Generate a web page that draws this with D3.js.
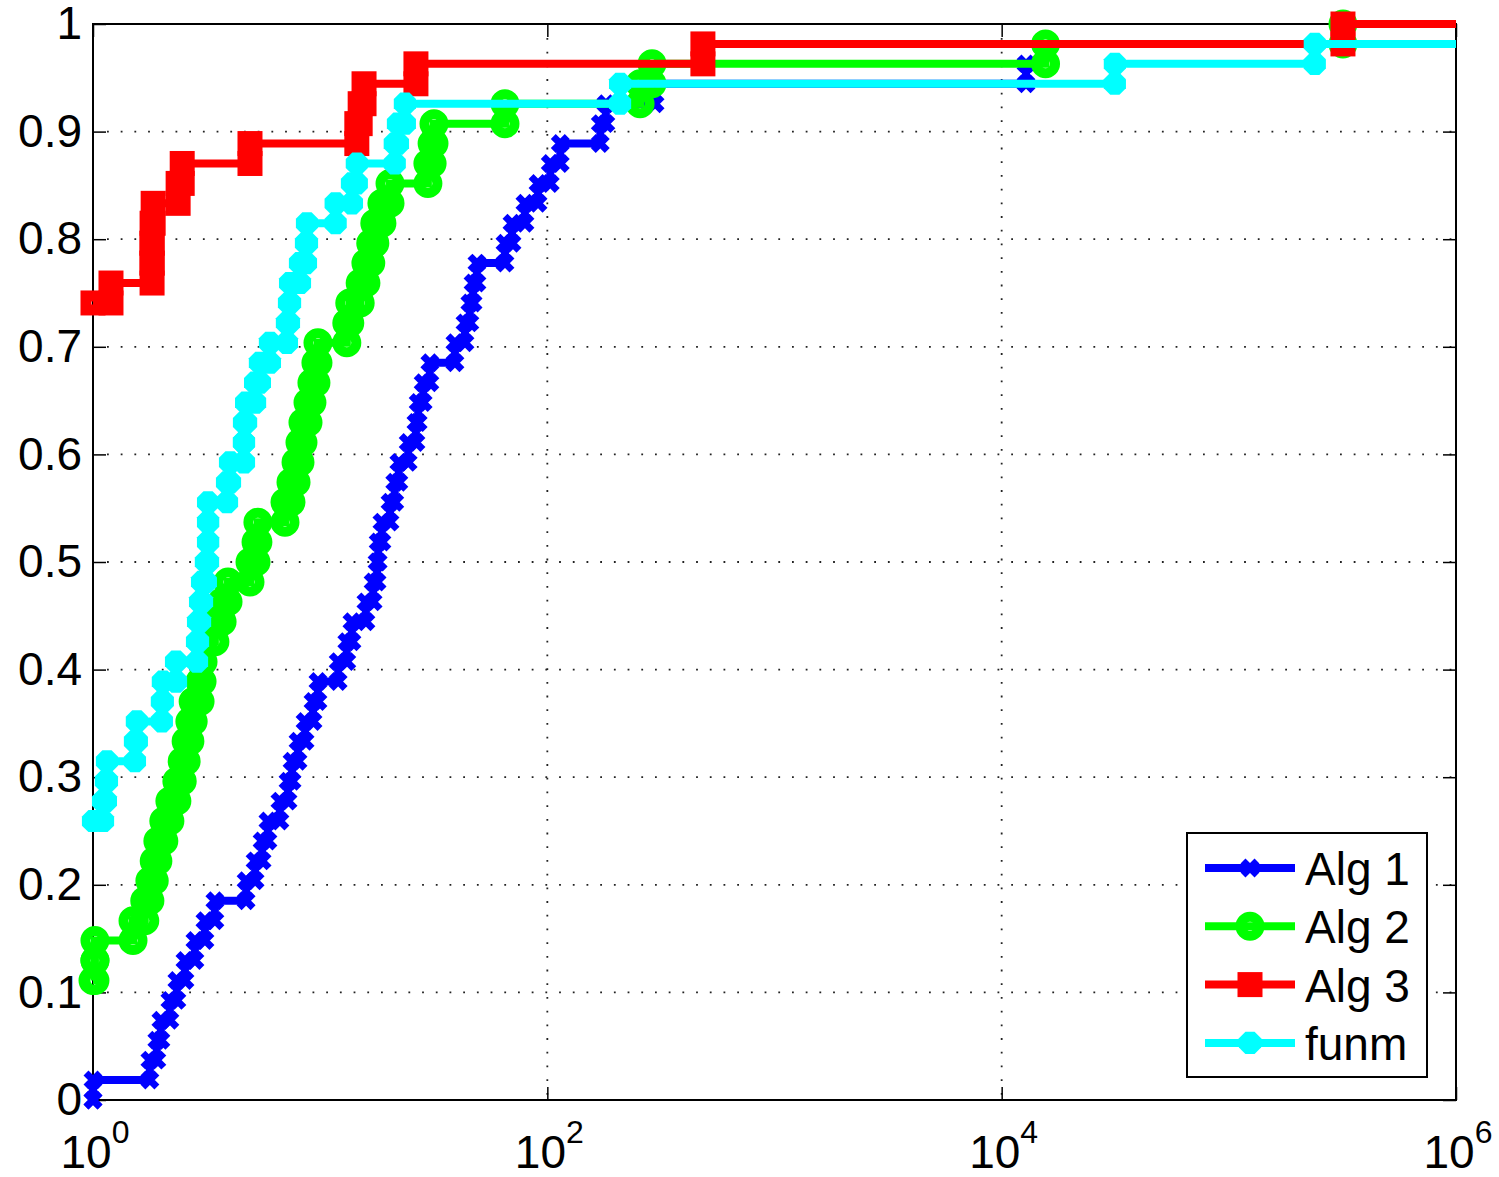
<!DOCTYPE html>
<html>
<head>
<meta charset="utf-8">
<script src="https://cdn.jsdelivr.net/npm/d3@7"></script>
<style>
  body { margin: 0; background: #fff; }
  svg { display: block; font-family: "Liberation Sans", Arial, Helvetica, sans-serif; }
</style>
</head>
<body>
<svg id="chart" width="1499" height="1177"></svg>
<script>
/*
 * Performance profile: fraction of the 54 problems solved within a ratio
 * of the best method, log x axis from 10^0 to 10^6.
 */

//number of test problems
var nProblems = 54;

//Alg 1 : ratio at every step and number of problems reached at that step
var alg1Ratio = [1, 1, 1.78, 1.91, 1.99, 2.18, 2.34, 2.54, 2.81, 3.11, 3.44, 4.72, 5.17, 5.55, 5.89, 6.65,
                 7.22, 7.52, 7.99, 8.58, 9.30, 9.78, 12.0, 13.1, 13.8, 15.9, 17.1, 17.8, 18.0, 18.7, 20.3,
                 21.3, 22.2, 24.4, 26.4, 27.0, 28.4, 30.4, 39.2, 43.4, 45.6, 47.1, 49.0, 65.1, 69.9, 79.7,
                 91.0, 103, 114, 171, 181, 298, 12800];
var alg1Count = [0, 1, 2, 3, 4, 5, 6, 7, 8, 9, 10, 11, 12, 13, 14, 15, 16, 17, 18, 19, 20, 21, 22, 23, 24,
                 25, 26, 27, 28, 29, 30, 31, 32, 33, 34, 35, 36, 37, 38, 39, 40, 41, 42, 43, 44, 45, 46, 47,
                 48, 49, 50, 51, 52];

//Alg 2
var alg2Ratio = [1, 1.02, 1.02, 1.50, 1.69, 1.78, 1.86, 1.93, 2.05, 2.18, 2.34, 2.47, 2.57, 2.67, 2.76,
                 2.96, 3.02, 3.05, 3.44, 3.70, 3.93, 4.91, 5.22, 5.32, 7.00, 7.44, 7.83, 8.15, 8.40, 8.84,
                 9.20, 9.58, 9.78, 13.1, 13.5, 15.0, 15.9, 16.7, 17.4, 18.7, 20.3, 29.8, 31.1, 31.7, 65.1,
                 256, 289, 15600, 318000];
var alg2Count = [6, 7, 8, 9, 10, 11, 12, 13, 14, 15, 16, 17, 18, 19, 20, 21, 22, 23, 24, 25, 26, 27, 28,
                 29, 30, 31, 32, 33, 34, 35, 36, 37, 38, 39, 40, 41, 42, 43, 44, 45, 46, 47, 48, 49, 50,
                 51, 52, 53, 54];

//Alg 3
var alg3Ratio = [1, 1.20, 1.82, 1.82, 1.82, 1.84, 2.37, 2.47, 4.91, 14.5, 15.0, 15.6, 26.4, 484, 318000];
var alg3Count = [40, 41, 42, 43, 44, 45, 46, 47, 48, 49, 50, 51, 52, 53, 54];

//funm
var funmRatio = [1, 1.107, 1.14, 1.152, 1.53, 1.56, 2.01, 2.03, 2.32, 2.87, 2.90, 2.96, 3.02, 3.14, 3.21,
                 3.21, 3.21, 3.89, 4.01, 4.62, 4.62, 4.72, 5.17, 5.43, 6.01, 7.14, 7.29, 7.37, 8.15, 8.66,
                 8.75, 11.7, 13.8, 14.5, 21.3, 22.0, 23.6, 209, 31500, 239000];
var funmCount = [14, 15, 16, 17, 18, 19, 20, 21, 22, 23, 24, 25, 26, 27, 28, 29, 30, 31, 32, 33, 34, 35,
                 36, 37, 38, 39, 40, 41, 42, 43, 44, 45, 46, 47, 48, 49, 50, 51, 52, 53];

//largest ratio of each method (beyond the axis, so the last step runs off the plot); null = none
var tailRatio = [null, 2e6, 2e6, 2e6];

var seriesNames = ["Alg 1", "Alg 2", "Alg 3", "funm"];
var seriesColors = ["#0000ff", "#00ff00", "#ff0000", "#00ffff"];

//axis ticks
var xTicks = [1, 1e2, 1e4, 1e6];
var xTickExp = ["0", "2", "4", "6"];
var yTicks = [0, 0.1, 0.2, 0.3, 0.4, 0.5, 0.6, 0.7, 0.8, 0.9, 1];
var yTickLabels = ["0", "0.1", "0.2", "0.3", "0.4", "0.5", "0.6", "0.7", "0.8", "0.9", "1"];


/*
 * Scales
 */
var plotL = 93, plotR = 1456, plotT = 24, plotB = 1100;

var x = d3.scaleLog().domain([1, 1e6]).range([plotL, plotR]);
var y = d3.scaleLinear().domain([0, 1]).range([plotB, plotT]);

var svg = d3.select("#chart");

//clip only right of the box (markers on the left edge hang over the axis like the original)
svg.append("defs").append("clipPath").attr("id", "plotclip")
   .append("rect")
   .attr("x", 0).attr("y", 0)
   .attr("width", plotR).attr("height", plotB + 40);


/*
 * Grid (dotted)
 */
var grid = svg.append("g").attr("stroke", "#222").attr("stroke-width", 1.8)
              .attr("stroke-dasharray", "1.8,11.9");

grid.selectAll("line.h")
    .data(yTicks.slice(1, -1))
    .enter().append("line")
    .attr("class", "h")
    .attr("x1", plotL + 14).attr("x2", plotR)
    .attr("y1", function(d){ return y(d); })
    .attr("y2", function(d){ return y(d); });

grid.selectAll("line.v")
    .data(xTicks.slice(1, -1))
    .enter().append("line")
    .attr("class", "v")
    .attr("y1", plotT + 14).attr("y2", plotB)
    .attr("x1", function(d){ return x(d); })
    .attr("x2", function(d){ return x(d); });


/*
 * Axes (ticks point inwards on all four sides)
 */
var yAxis = d3.axisLeft(y).tickValues(yTicks).tickSize(-13).tickPadding(11)
              .tickFormat(function(d, i){ return yTickLabels[i]; });
var xAxis = d3.axisBottom(x).tickValues(xTicks).tickSize(-13).tickFormat("");

var gy = svg.append("g").attr("transform", "translate(" + plotL + ",0)").call(yAxis);
var gx = svg.append("g").attr("transform", "translate(0," + plotB + ")").call(xAxis);
var gt = svg.append("g").attr("transform", "translate(0," + plotT + ")")
            .call(d3.axisTop(x).tickValues(xTicks).tickSize(-13).tickFormat(""));
var gr = svg.append("g").attr("transform", "translate(" + plotR + ",0)")
            .call(d3.axisRight(y).tickValues(yTicks).tickSize(-13).tickFormat(""));

[gy, gx, gt, gr].forEach(function(g){
  g.select(".domain").remove();
  g.selectAll(".tick line").attr("stroke", "#000").attr("stroke-width", 1.5);
});

gy.selectAll(".tick text")
  .attr("font-size", 46).attr("fill", "#000")
  .attr("font-family", "'Liberation Sans', Arial, Helvetica, sans-serif");

//log labels 10^n
var xl = svg.append("g").selectAll("text")
            .data(xTicks)
            .enter().append("text")
            .attr("x", function(d){ return x(d) + 2; })
            .attr("y", 1168)
            .attr("text-anchor", "middle")
            .attr("font-size", 46)
            .text("10");
xl.append("tspan")
  .attr("dy", -25)
  .attr("font-size", 32)
  .text(function(d, i){ return xTickExp[i]; });

//box
svg.append("rect")
   .attr("x", plotL).attr("y", plotT)
   .attr("width", plotR - plotL).attr("height", plotB - plotT)
   .attr("fill", "none").attr("stroke", "#000").attr("stroke-width", 2);


/*
 * Curves
 */

//stair vertices: go across at the old level, then up to the new one
function stairPoints(ratio, count, tail) {
  var pts = [[ratio[0], count[0]]];
  for (var i = 1; i < ratio.length; i++) {
    pts.push([ratio[i], count[i - 1]]);
    pts.push([ratio[i], count[i]]);
  }
  if (tail) pts.push([tail, count[count.length - 1]]);
  return pts;
}

//marker shapes (thick strokes like the matlab markers)
function drawMarker(sel, k) {
  var c = seriesColors[k];
  if (k === 0) {
    sel.append("path").attr("d", "M-7,-7L7,7M-7,7L7,-7")
       .attr("fill", "none").attr("stroke", c).attr("stroke-width", 7);
  } else if (k === 1) {
    sel.append("circle").attr("r", 9.5)
       .attr("fill", "none").attr("stroke", c).attr("stroke-width", 10);
  } else if (k === 2) {
    sel.append("rect").attr("x", -7).attr("y", -7).attr("width", 14).attr("height", 14)
       .attr("fill", "none").attr("stroke", c).attr("stroke-width", 11);
  } else {
    var oct = d3.range(8).map(function(j){
      var a = Math.PI / 8 + j * Math.PI / 4;
      return [12 * Math.cos(a), 12 * Math.sin(a)];
    });
    sel.append("path").attr("d", "M" + oct.join("L") + "Z").attr("fill", c);
  }
}

var allRatio = [alg1Ratio, alg2Ratio, alg3Ratio, funmRatio];
var allCount = [alg1Count, alg2Count, alg3Count, funmCount];

var line = d3.line()
             .x(function(d){ return x(d[0]); })
             .y(function(d){ return y(d[1] / nProblems); });

var curves = svg.append("g").attr("clip-path", "url(#plotclip)");

seriesNames.forEach(function(name, k){
  var pts = stairPoints(allRatio[k], allCount[k], tailRatio[k]);
  var g = curves.append("g");

  g.append("path")
   .datum(pts)
   .attr("d", line)
   .attr("fill", "none")
   .attr("stroke", seriesColors[k])
   .attr("stroke-width", 8)
   .attr("stroke-linejoin", "miter");

  g.selectAll("g.mk")
   .data(pts)
   .enter().append("g")
   .attr("class", "mk")
   .attr("transform", function(d){ return "translate(" + x(d[0]) + "," + y(d[1] / nProblems) + ")"; })
   .each(function(){ drawMarker(d3.select(this), k); });
});


/*
 * Legend
 */
var legend = svg.append("g");

legend.append("rect")
      .attr("x", 1187).attr("y", 833)
      .attr("width", 240).attr("height", 244)
      .attr("fill", "#fff").attr("stroke", "#000").attr("stroke-width", 2);

seriesNames.forEach(function(name, k){
  var ly = 868 + k * 58.3;
  legend.append("line")
        .attr("x1", 1205).attr("x2", 1295)
        .attr("y1", ly).attr("y2", ly)
        .attr("stroke", seriesColors[k]).attr("stroke-width", 8);
  var m = legend.append("g").attr("transform", "translate(1250," + ly + ")");
  drawMarker(m, k);
  legend.append("text")
        .attr("x", 1305).attr("y", ly + 17)
        .attr("font-size", 46)
        .text(name);
});
</script>
</body>
</html>
